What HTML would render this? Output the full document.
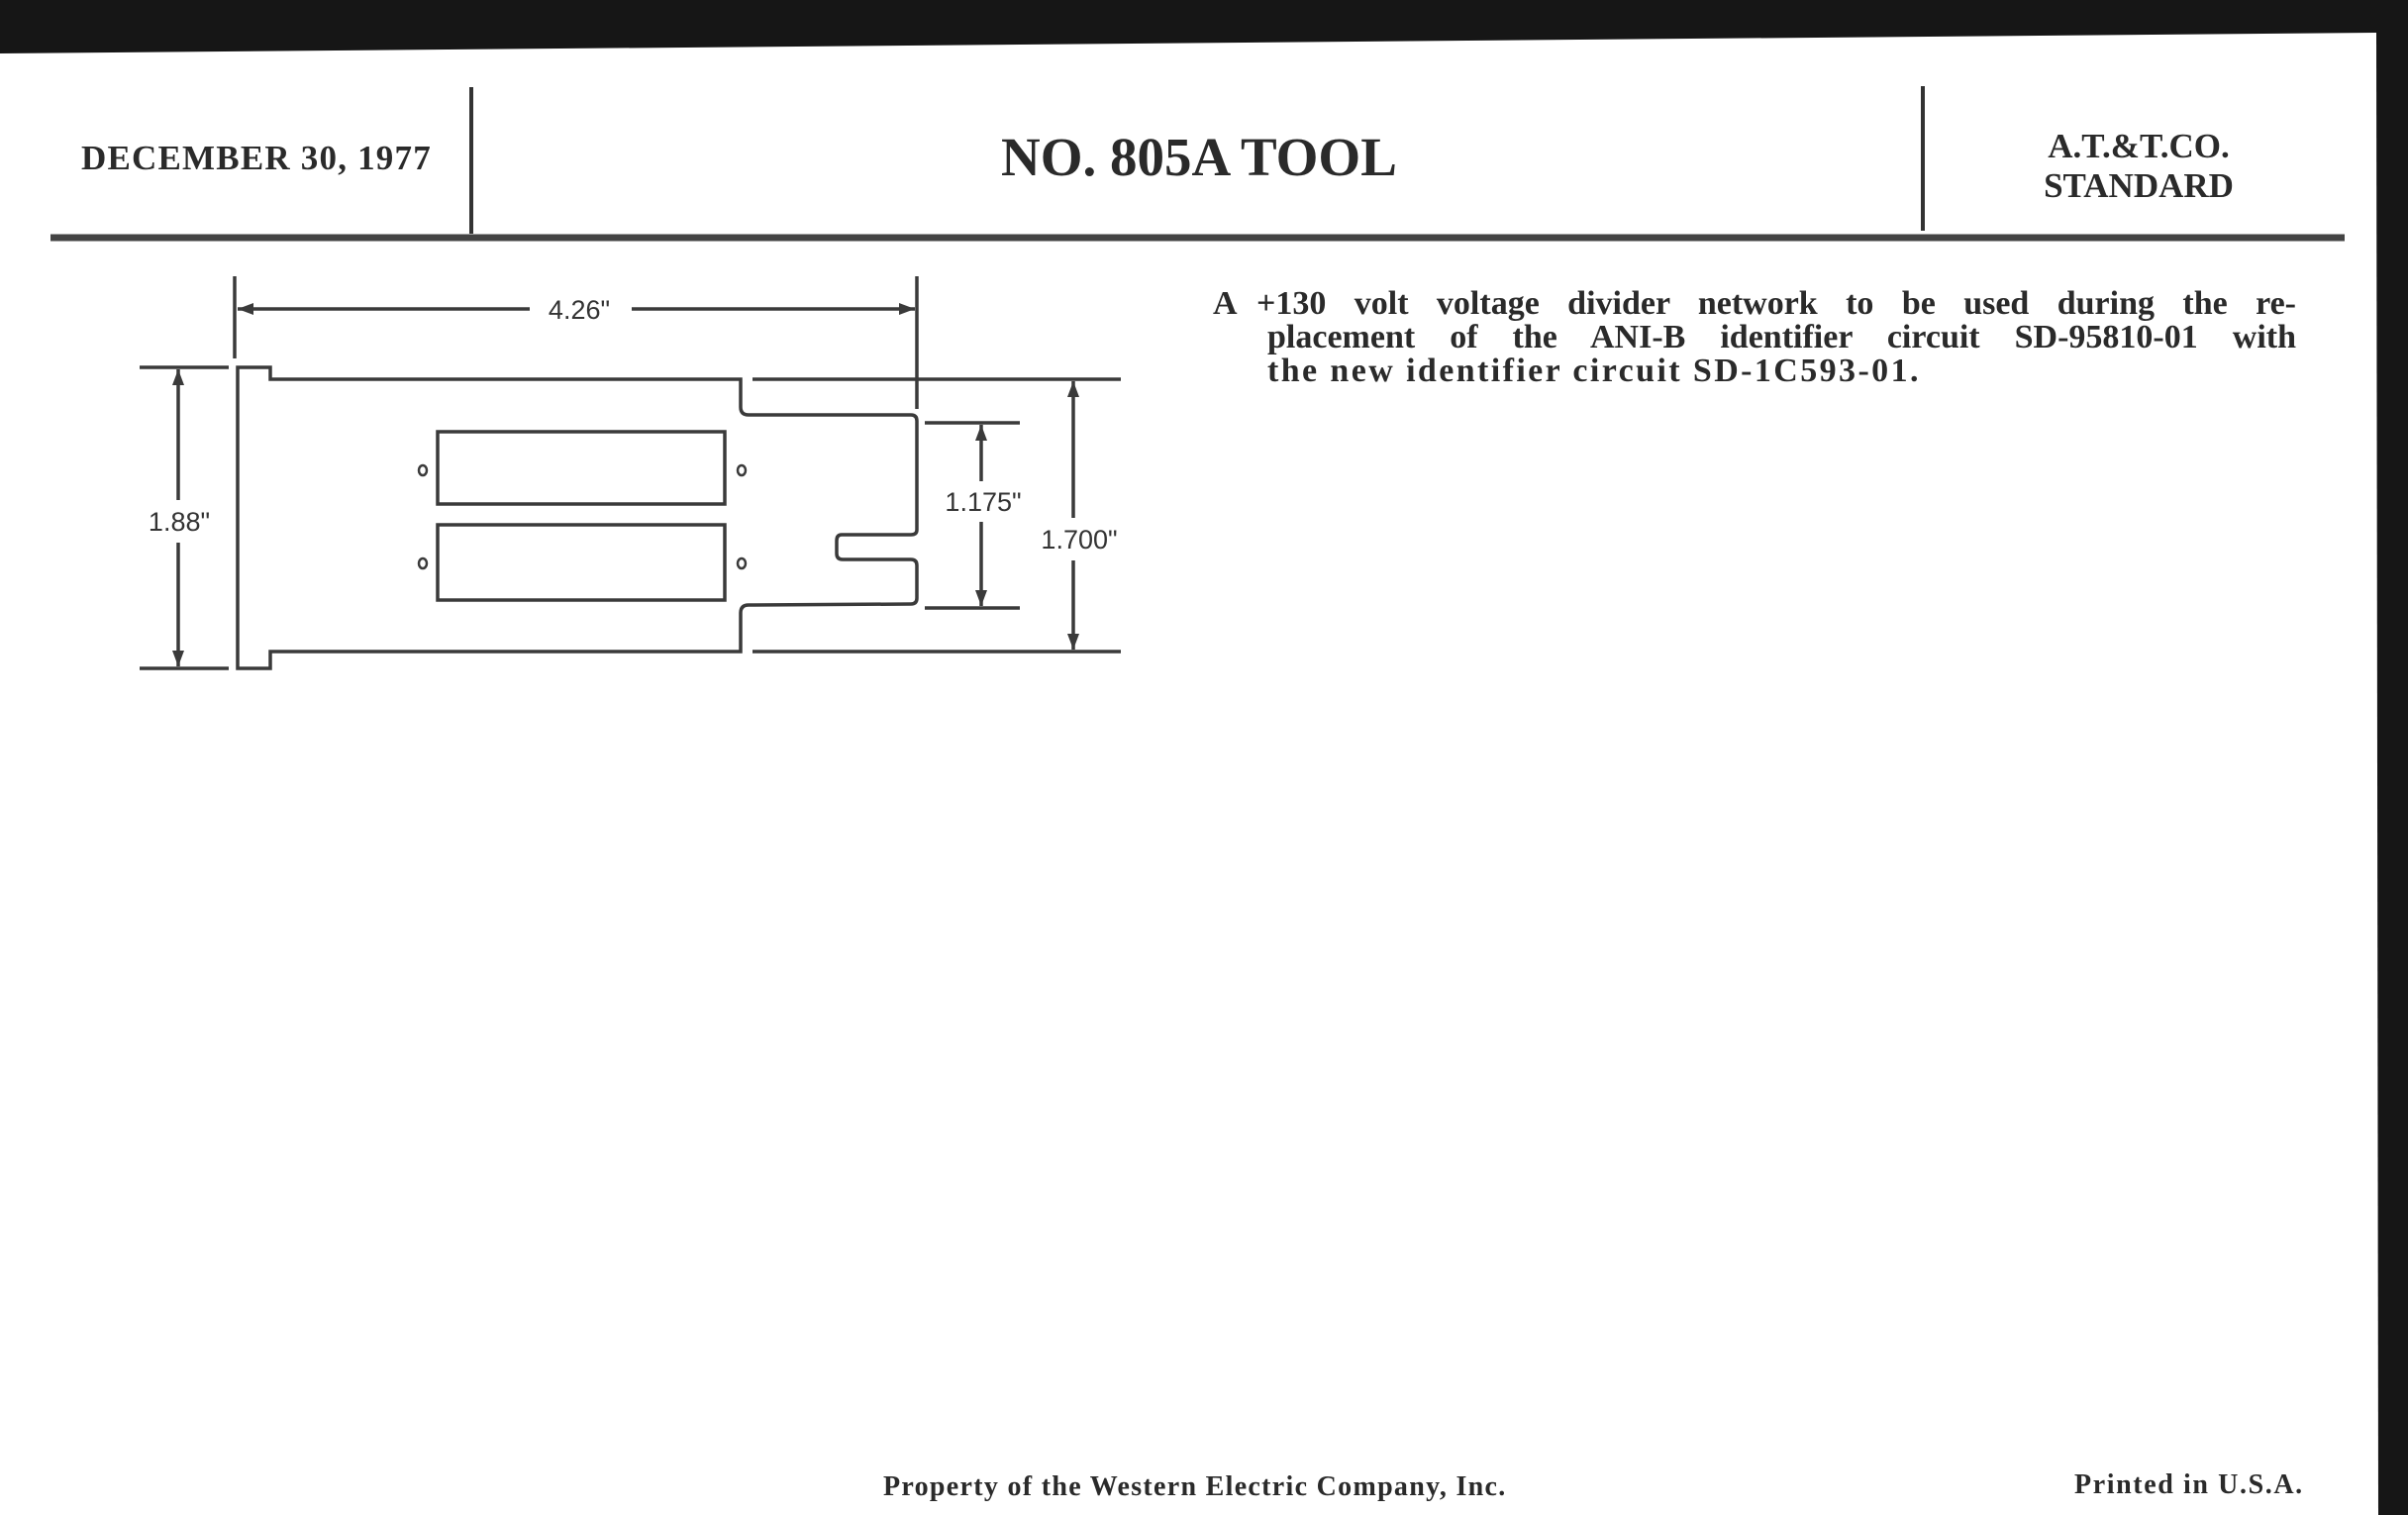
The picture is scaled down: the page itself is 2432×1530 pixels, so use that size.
<!DOCTYPE html>
<html><head><meta charset="utf-8"><style>
html,body{margin:0;padding:0;background:#161616;}
body{width:2432px;height:1530px;position:relative;overflow:hidden;font-family:"Liberation Serif",serif;color:#2a2a2a;}
.t{position:absolute;white-space:nowrap;font-weight:bold;line-height:1;}
.j{position:absolute;font-weight:bold;font-size:34px;line-height:34px;text-align:justify;text-align-last:justify;white-space:nowrap;}
svg{position:absolute;left:0;top:0;}
</style></head><body>
<svg width="2432" height="1530" viewBox="0 0 2432 1530">
<polygon points="0,54 2400,33 2402,1530 0,1530" fill="#fff"/>
<line x1="476" y1="88" x2="476" y2="236" stroke="#333" stroke-width="4"/>
<line x1="1942" y1="87" x2="1942" y2="233" stroke="#333" stroke-width="4"/>
<line x1="51" y1="240" x2="2368" y2="240" stroke="#444" stroke-width="7"/>
<g fill="none" stroke="#3a3a3a" stroke-width="3.5">
<path d="M240,371 L273,371 L273,383 L748,383 L748,411 Q748,419 756,419 L920,419 Q926,419 926,425 L926,535 Q926,540 920,540 L850,540 Q845,540 845,546 L845,559 Q845,565 851,565 L920,565 Q926,565 926,571 L926,604 Q926,610 920,610 L756,611 Q748,611 748,619 L748,658 L273,658 L273,675 L240,675 Z"/>
<rect x="442" y="436" width="290" height="73"/>
<rect x="442" y="530" width="290" height="76"/>
<ellipse cx="427" cy="475" rx="4" ry="5" stroke-width="2.5"/>
<ellipse cx="749" cy="475" rx="4" ry="5" stroke-width="2.5"/>
<ellipse cx="427" cy="569" rx="4" ry="5" stroke-width="2.5"/>
<ellipse cx="749" cy="569" rx="4" ry="5" stroke-width="2.5"/>
<line x1="237" y1="279" x2="237" y2="362"/>
<line x1="926" y1="279" x2="926" y2="413"/>
<line x1="141" y1="371" x2="231" y2="371"/>
<line x1="141" y1="675" x2="231" y2="675"/>
<line x1="760" y1="383" x2="1132" y2="383"/>
<line x1="760" y1="658" x2="1132" y2="658"/>
<line x1="934" y1="427" x2="1030" y2="427"/>
<line x1="934" y1="614" x2="1030" y2="614"/>
<line x1="240" y1="312" x2="535" y2="312"/>
<line x1="638" y1="312" x2="924" y2="312"/>
<line x1="180" y1="373" x2="180" y2="505"/>
<line x1="180" y1="548" x2="180" y2="673"/>
<line x1="991" y1="429" x2="991" y2="486"/>
<line x1="991" y1="527" x2="991" y2="612"/>
<line x1="1084" y1="385" x2="1084" y2="523"/>
<line x1="1084" y1="566" x2="1084" y2="656"/>
</g>
<g fill="#3a3a3a">
<polygon points="240,312 256,306 256,318"/>
<polygon points="924,312 908,306 908,318"/>
<polygon points="180,373 174,389 186,389"/>
<polygon points="180,673 174,657 186,657"/>
<polygon points="991,429 985,445 997,445"/>
<polygon points="991,612 985,596 997,596"/>
<polygon points="1084,385 1078,401 1090,401"/>
<polygon points="1084,656 1078,640 1090,640"/>
</g>
<g font-family="Liberation Sans, sans-serif" font-size="27" fill="#333" text-anchor="middle">
<text x="585" y="322">4.26"</text>
<text x="181" y="536">1.88"</text>
<text x="993" y="516">1.175"</text>
<text x="1090" y="554">1.700"</text>
</g>
</svg>
<div class="t" style="left:82px;top:142px;font-size:35px;letter-spacing:1.2px;">DECEMBER 30, 1977</div>
<div class="t" style="left:1011px;top:131px;font-size:55px;">NO. 805A TOOL</div>
<div class="t" style="left:2060px;top:128px;width:200px;text-align:center;font-size:35px;line-height:40px;">A.T.&amp;T.CO.<br>STANDARD</div>
<div class="t" style="left:1225px;top:290px;font-size:34px;">A</div>
<div class="j" style="left:1269px;top:290px;width:1050px;">+130 volt voltage divider network to be used during the re-</div>
<div class="j" style="left:1280px;top:324px;width:1039px;">placement of the ANI-B identifier circuit SD-95810-01 with</div>
<div class="t" style="left:1280px;top:358px;font-size:34px;letter-spacing:2.4px;">the new identifier circuit SD-1C593-01.</div>
<div class="t" style="left:892px;top:1488px;font-size:28px;letter-spacing:1.3px;">Property of the Western Electric Company, Inc.</div>
<div class="t" style="left:2095px;top:1486px;font-size:28px;letter-spacing:1.6px;">Printed in U.S.A.</div>
</body></html>
